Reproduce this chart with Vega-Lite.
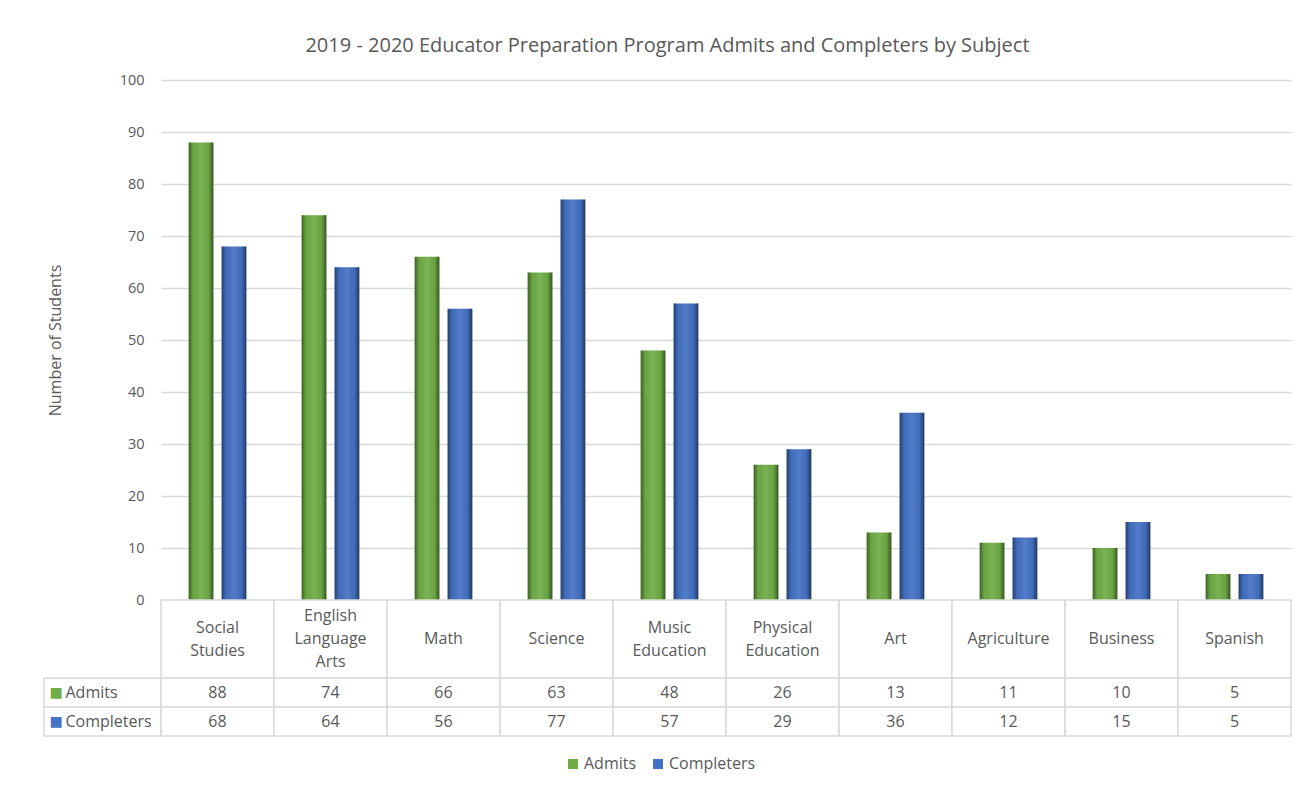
{
  "$schema": "https://vega.github.io/schema/vega-lite/v6.json",
  "background": "white",
  "padding": {"left": 43, "top": 36, "right": 9, "bottom": 10},
  "title": {
    "text": "2019 - 2020 Educator Preparation Program Admits and Completers by Subject",
    "font": "Open Sans",
    "fontSize": 20,
    "fontWeight": "normal",
    "color": "#595959",
    "anchor": "middle",
    "offset": 16
  },
  "data": {
    "values": [
      {"subject": "Social Studies", "series": "Admits", "value": 88},
      {"subject": "Social Studies", "series": "Completers", "value": 68},
      {"subject": "English Language Arts", "series": "Admits", "value": 74},
      {"subject": "English Language Arts", "series": "Completers", "value": 64},
      {"subject": "Math", "series": "Admits", "value": 66},
      {"subject": "Math", "series": "Completers", "value": 56},
      {"subject": "Science", "series": "Admits", "value": 63},
      {"subject": "Science", "series": "Completers", "value": 77},
      {"subject": "Music Education", "series": "Admits", "value": 48},
      {"subject": "Music Education", "series": "Completers", "value": 57},
      {"subject": "Physical Education", "series": "Admits", "value": 26},
      {"subject": "Physical Education", "series": "Completers", "value": 29},
      {"subject": "Art", "series": "Admits", "value": 13},
      {"subject": "Art", "series": "Completers", "value": 36},
      {"subject": "Agriculture", "series": "Admits", "value": 11},
      {"subject": "Agriculture", "series": "Completers", "value": 12},
      {"subject": "Business", "series": "Admits", "value": 10},
      {"subject": "Business", "series": "Completers", "value": 15},
      {"subject": "Spanish", "series": "Admits", "value": 5},
      {"subject": "Spanish", "series": "Completers", "value": 5}
    ]
  },
  "columns": 2,
  "spacing": 0,
  "bounds": "flush",
  "concat": [
    {
      "width": 117,
      "height": 520,
      "mark": {"type": "rect", "opacity": 0},
      "encoding": {}
    },
    {
      "width": 1130,
      "height": 520,
      "encoding": {
        "x": {
          "field": "subject",
          "type": "nominal",
          "sort": null,
          "axis": null,
          "scale": {"paddingInner": 0.49, "paddingOuter": 0.245}
        },
        "xOffset": {
          "field": "series",
          "type": "nominal",
          "scale": {"paddingInner": 0.25, "paddingOuter": 0}
        },
        "y": {
          "field": "value",
          "type": "quantitative",
          "scale": {"domain": [0, 100], "nice": false},
          "axis": {
            "title": "Number of Students",
            "values": [0, 10, 20, 30, 40, 50, 60, 70, 80, 90, 100],
            "grid": true,
            "gridColor": "#d9d9d9",
            "gridWidth": 1.5,
            "domain": false,
            "ticks": false,
            "labelPadding": 17,
            "labelFont": "Open Sans",
            "labelFontSize": 14.5,
            "labelColor": "#595959",
            "titleFont": "Open Sans",
            "titleFontSize": 16,
            "titleFontWeight": "normal",
            "titleColor": "#595959",
            "titlePadding": 56
          }
        }
      },
      "layer": [
        {
          "mark": {"type": "bar"},
          "encoding": {
            "color": {
              "field": "series",
              "type": "nominal",
              "scale": {"domain": ["Admits", "Completers"], "range": ["#70AD47", "#4472C4"]},
              "legend": {
                "orient": "none",
                "direction": "horizontal",
                "legendX": 521,
                "legendY": 676,
                "title": null,
                "symbolType": "square",
                "symbolSize": 100,
                "symbolStrokeWidth": 0,
                "labelFont": "Open Sans",
                "labelFontSize": 16,
                "labelColor": "#595959",
                "columnPadding": 13,
                "labelOffset": 3
              }
            }
          }
        },
        {
          "mark": {
            "type": "bar",
            "color": {
              "x1": 0, "y1": 0, "x2": 1, "y2": 0,
              "gradient": "linear",
              "stops": [
                {"offset": 0, "color": "rgba(0,0,0,0.45)"},
                {"offset": 0.18, "color": "rgba(0,0,0,0.05)"},
                {"offset": 0.5, "color": "rgba(255,255,255,0.08)"},
                {"offset": 0.8, "color": "rgba(0,0,0,0.05)"},
                {"offset": 1, "color": "rgba(0,0,0,0.5)"}
              ]
            }
          }
        }
      ]
    },
    {
      "width": 117,
      "height": 78,
      "mark": {"type": "rect", "opacity": 0},
      "encoding": {}
    },
    {
      "width": 1130,
      "height": 78,
      "transform": [{"filter": "datum.series === 'Admits'"}],
      "encoding": {
        "x": {
          "field": "subject",
          "type": "nominal",
          "sort": null,
          "axis": null,
          "scale": {"paddingInner": 0, "paddingOuter": 0}
        }
      },
      "layer": [
        {
          "mark": {"type": "rect", "fill": "white", "stroke": "#d9d9d9", "strokeWidth": 1.5}
        },
        {
          "transform": [{"filter": "length(split(datum.subject, ' ')) === 1"}],
          "mark": {
            "type": "text",
            "font": "Open Sans",
            "fontSize": 16,
            "color": "#595959",
            "lineBreak": " ",
            "lineHeight": 23,
            "baseline": "middle"
          },
          "encoding": {"text": {"field": "subject"}}
        },
        {
          "transform": [{"filter": "length(split(datum.subject, ' ')) === 2"}],
          "mark": {
            "type": "text",
            "font": "Open Sans",
            "fontSize": 16,
            "color": "#595959",
            "lineBreak": " ",
            "lineHeight": 23,
            "baseline": "middle",
            "dy": -11.5
          },
          "encoding": {"text": {"field": "subject"}}
        },
        {
          "transform": [{"filter": "length(split(datum.subject, ' ')) === 3"}],
          "mark": {
            "type": "text",
            "font": "Open Sans",
            "fontSize": 16,
            "color": "#595959",
            "lineBreak": " ",
            "lineHeight": 23,
            "baseline": "middle",
            "dy": -23
          },
          "encoding": {"text": {"field": "subject"}}
        }
      ]
    },
    {
      "width": 117,
      "height": 58,
      "transform": [{"filter": "datum.subject === 'Social Studies'"}],
      "encoding": {
        "y": {
          "field": "series",
          "type": "nominal",
          "axis": null,
          "scale": {"paddingInner": 0, "paddingOuter": 0}
        }
      },
      "layer": [
        {
          "mark": {"type": "rect", "fill": "white", "stroke": "#d9d9d9", "strokeWidth": 1.5}
        },
        {
          "mark": {"type": "text", "text": "■", "font": "DejaVu Sans", "fontSize": 14, "align": "left", "dx": -53, "baseline": "middle"},
          "encoding": {
            "color": {"field": "series", "type": "nominal", "legend": null}
          }
        },
        {
          "mark": {
            "type": "text",
            "font": "Open Sans",
            "fontSize": 16,
            "color": "#595959",
            "align": "left",
            "dx": -37,
            "baseline": "middle"
          },
          "encoding": {"text": {"field": "series"}}
        }
      ]
    },
    {
      "width": 1130,
      "height": 58,
      "encoding": {
        "x": {
          "field": "subject",
          "type": "nominal",
          "sort": null,
          "axis": null,
          "scale": {"paddingInner": 0, "paddingOuter": 0}
        },
        "y": {
          "field": "series",
          "type": "nominal",
          "axis": null,
          "scale": {"paddingInner": 0, "paddingOuter": 0}
        }
      },
      "layer": [
        {
          "mark": {"type": "rect", "fill": "white", "stroke": "#d9d9d9", "strokeWidth": 1.5}
        },
        {
          "mark": {
            "type": "text",
            "font": "Open Sans",
            "fontSize": 16,
            "color": "#595959",
            "baseline": "middle"
          },
          "encoding": {"text": {"field": "value", "type": "quantitative"}}
        }
      ]
    }
  ],
  "resolve": {"scale": {"x": "independent", "y": "independent"}},
  "config": {
    "view": {"stroke": null},
    "font": "Open Sans"
  }
}
